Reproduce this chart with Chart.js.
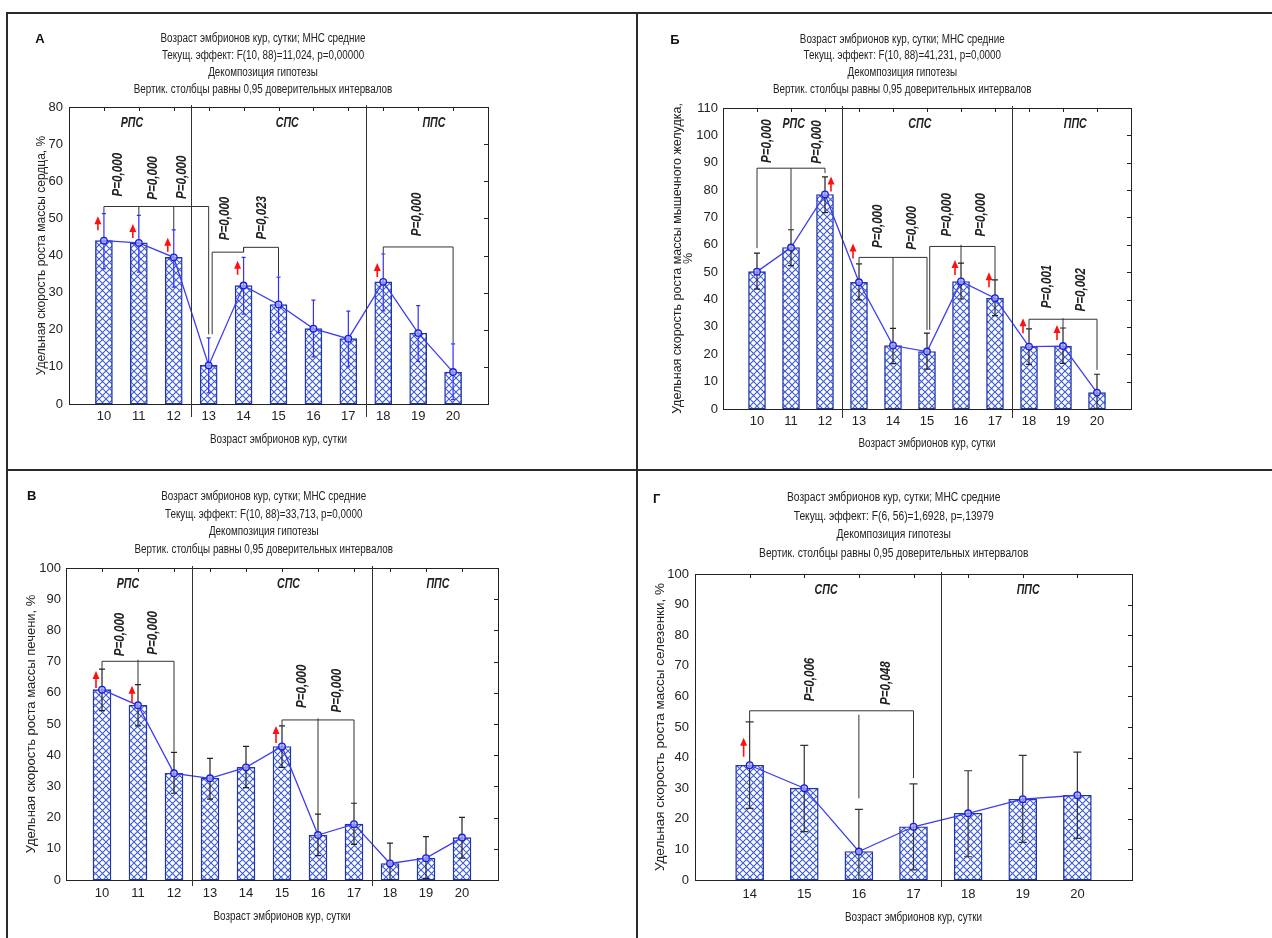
<!DOCTYPE html>
<html>
<head>
<meta charset="utf-8">
<script src="https://cdn.jsdelivr.net/npm/chart.js@4.4.0/dist/chart.umd.min.js"></script>
<style>
body{margin:0;background:#fff;width:1272px;height:938px;overflow:hidden;position:relative}
canvas{position:absolute}
.ln{position:absolute;background:#2b2b2b}
</style>
</head>
<body>
<div class="ln" style="left:6px;top:12px;width:1266px;height:2px"></div>
<div class="ln" style="left:6px;top:12px;width:2px;height:926px"></div>
<div class="ln" style="left:636px;top:12px;width:2px;height:926px"></div>
<div class="ln" style="left:6px;top:469px;width:1266px;height:2px"></div>
<canvas id="cA"></canvas>
<canvas id="cB"></canvas>
<canvas id="cC"></canvas>
<canvas id="cD"></canvas>
<script>
// ---- data ----
var titleTop = 'Возраст эмбрионов кур, сутки; МНС средние'
var titleDec = 'Декомпозиция гипотезы'
var titleCI = 'Вертик. столбцы равны 0,95 доверительных интервалов'
var xTitle = 'Возраст эмбрионов кур, сутки'

// А - сердце
var daysA = [10,11,12,13,14,15,16,17,18,19,20]
var meanA = [44.0,43.4,39.5,10.4,31.9,26.8,20.3,17.6,32.9,19.1,8.6]
var lowA = [36.4,35.5,31.5,3.0,24.2,19.3,12.7,10.0,25.1,11.5,1.2]
var highA = [51.3,50.8,46.9,17.8,39.5,34.2,28.0,25.0,40.4,26.5,16.2]
var groupsA = ['РПС','СПС','ППС']
var groupAtA = [10.8,15.25,19.45]
var sepA = [12.5,17.5]
var bracketsA = [
	[53.2,[[10,53.2,51.3],[11,53.2,50.8],[12,53.2,46.9],[13,53.2,18.8]]],
	[40.9,[[13.1,40.9,18.8],[14,40.9,42.2]]],
	[42.2,[[14,42.2,40.9],[15,42.2,34.4]]],
	[42.3,[[18,42.3,40.4],[20,42.3,16.4]]]
]
var pTextA = ['P=0,000','P=0,000','P=0,000','P=0,000','P=0,023','P=0,000']
var pAtA = [10.4,11.4,12.23,13.47,14.53,18.97]
var pBaseA = [55.9,55.0,55.2,44.1,44.3,45.2]
var arrowDaysA = [10,11,12,14,18]
var arrowBaseA = [46.8,44.7,41.0,34.8,34.2]
var arrowSideA = [-1,-1,-1,-1,-1]

// Б - мышечный желудок
var daysB = [10,11,12,13,14,15,16,17,18,19,20]
var meanB = [50.2,59.0,78.4,46.3,23.2,21.0,46.6,40.5,22.8,23.0,6.0]
var lowB = [43.8,52.4,71.8,39.9,16.6,14.6,40.2,34.1,16.3,16.7,0]
var highB = [57.0,65.5,84.8,53.0,29.5,27.7,53.3,47.2,29.3,29.6,12.7]
var groupsB = ['РПС','СПС','ППС']
var groupAtB = [11.08,14.79,19.36]
var sepB = [12.5,17.5]
var bracketsB = [
	[88.0,[[10,88,58.8],[11,88,65.5],[12,88,86.2]]],
	[55.4,[[13,55.4,53.3],[14,55.4,29.5],[15,55.4,28.9]]],
	[59.4,[[15.08,59.4,28.9],[16,60.0,53.3],[17,59.4,47.2]]],
	[32.8,[[18,32.8,29.3],[19,33.2,29.6],[20,32.8,14.3]]]
]
var pTextB = ['P=0,000','P=0,000','P=0,000','P=0,000','P=0,000','P=0,000','P=0,001','P=0,002']
var pAtB = [10.29,11.76,13.57,14.55,15.58,16.6,18.53,19.53]
var pBaseB = [89.9,89.6,58.8,58.2,63.0,63.0,36.8,35.6]
var arrowDaysB = [12,13,16,17,18,19]
var arrowBaseB = [79.5,55.0,49.0,44.5,27.7,25.2]
var arrowSideB = [1,-1,-1,-1,-1,-1]

// В - печень
var daysC = [10,11,12,13,14,15,16,17,18,19,20]
var meanC = [61.0,56.0,34.2,32.6,36.1,42.8,14.4,17.9,5.3,7.0,13.6]
var lowC = [54.3,49.4,27.8,25.9,29.6,36.1,7.8,11.4,0,0.5,7.0]
var highC = [67.6,62.6,40.9,39.0,42.8,49.4,21.1,24.6,11.8,13.9,20.1]
var groupsC = ['РПС','СПС','ППС']
var groupAtC = [10.72,15.18,19.33]
var sepC = [12.5,17.5]
var bracketsC = [
	[70.1,[[10,70.1,67.6],[11,70.6,62.6],[12,70.1,41.2]]],
	[51.3,[[15,51.3,49.4],[16,51.8,21.1],[17,51.3,24.6]]]
]
var pTextC = ['P=0,000','P=0,000','P=0,000','P=0,000']
var pAtC = [10.5,11.42,15.55,16.53]
var pBaseC = [71.7,72.2,55.1,53.7]
var arrowDaysC = [10,11,15]
var arrowBaseC = [61.5,56.8,43.9]
var arrowSideC = [-1,-1,-1]

// Г - селезенка
var daysD = [14,15,16,17,18,19,20]
var meanD = [37.5,30.0,9.3,17.4,21.8,26.4,27.7]
var lowD = [23.4,15.8,0,3.3,7.6,12.3,13.6]
var highD = [51.7,44.0,23.1,31.4,35.7,40.7,41.8]
var groupsD = ['СПС','ППС']
var groupAtD = [15.4,19.1]
var sepD = [17.5]
var bracketsD = [
	[55.3,[[14,55.3,51.7],[16,54.0,26.7],[17,55.3,33.3]]]
]
var pTextD = ['P=0,006','P=0,048']
var pAtD = [15.1,16.5]
var pBaseD = [58.4,57.2]
var arrowDaysD = [14]
var arrowBaseD = [40.3]
var arrowSideD = [-1]

// ---- styles / layout ----
var FR = "'Liberation Sans', Arial, sans-serif"
Chart.defaults.font.family = FR
Chart.defaults.color = '#222'

function hatch(ctx){
	var t = document.createElement('canvas')
	t.width = 7; t.height = 7
	var g = t.getContext('2d')
	g.fillStyle = '#fff'
	g.fillRect(0,0,7,7)
	g.strokeStyle = '#3d5bd8'
	g.lineWidth = 1.1
	g.beginPath()
	g.moveTo(-1,-1); g.lineTo(8,8)
	g.moveTo(8,-1); g.lineTo(-1,8)
	g.stroke()
	return ctx.createPattern(t,'repeat')
}

// text squeezed sideways, the source figure uses a narrow face
function narrow(c, text, x, y, sx, rot){
	c.save()
	c.translate(x,y)
	if(rot) c.rotate(rot)
	c.scale(sx,1)
	c.fillText(text,0,0)
	c.restore()
}

function panel(id, L, D){
	var cv = document.getElementById(id)
	cv.width = L.w; cv.height = L.h
	cv.style.left = L.x + 'px'; cv.style.top = L.y + 'px'
	var ctx = cv.getContext('2d')
	var a = L.area
	var yW = a[0] - L.yTitleX + L.yFont*L.yLine/2 + 2
	var xH = L.xTitleY - a[3] + 12
	var pts = D.days.map(function(d,i){ return {x:d, y:D.mean[i]} })

	var decor = {
		id: 'decor' + id,
		afterDatasetDraw: function(chart, args){
			if(args.index !== 1) return
			var x = chart.scales.x, y = chart.scales.y, c = chart.ctx
			c.save()
			c.strokeStyle = L.errColor
			c.lineWidth = 1.2
			for(var i=0;i<D.days.length;i++){
				var px = x.getPixelForValue(D.days[i])
				var y1 = y.getPixelForValue(D.high[i]), y0 = y.getPixelForValue(Math.max(0,D.low[i]))
				c.beginPath()
				c.moveTo(px,y1); c.lineTo(px,y0)
				c.moveTo(px-L.capW,y1); c.lineTo(px+L.capW,y1)
				c.moveTo(px-L.capW,y0); c.lineTo(px+L.capW,y0)
				c.stroke()
			}
			c.restore()
		},
		afterDraw: function(chart){
			var x = chart.scales.x, y = chart.scales.y, c = chart.ctx, ca = chart.chartArea
			c.save()
			// frame and inner ticks
			c.strokeStyle = '#222'
			c.lineWidth = 1
			c.strokeRect(Math.round(ca.left)+0.5, Math.round(ca.top)+0.5, Math.round(ca.right-ca.left), Math.round(ca.bottom-ca.top))
			c.beginPath()
			D.days.forEach(function(d){
				var px = Math.round(x.getPixelForValue(d))+0.5
				c.moveTo(px,ca.top); c.lineTo(px,ca.top+4)
			})
			for(var v=10; v<D.yMax; v+=10){
				var py = Math.round(y.getPixelForValue(v))+0.5
				c.moveTo(ca.right,py); c.lineTo(ca.right-4,py)
			}
			c.stroke()
			// separators between periods
			c.strokeStyle = '#333'
			c.beginPath()
			D.seps.forEach(function(s){
				var px = Math.round(x.getPixelForValue(s))+0.5
				c.moveTo(px,ca.top-2); c.lineTo(px,ca.bottom+L.sepDown)
			})
			c.stroke()
			// period names
			c.fillStyle = '#222'
			c.font = 'italic bold 14px ' + FR
			c.textAlign = 'center'; c.textBaseline = 'middle'
			D.groups.forEach(function(g,i){
				narrow(c, g, x.getPixelForValue(D.groupAt[i]), ca.top+16, 0.76)
			})
			// brackets
			c.strokeStyle = '#333'
			c.lineWidth = 1
			D.brackets.forEach(function(b){
				var lv = y.getPixelForValue(b[0])
				var xs = b[1].map(function(d){ return x.getPixelForValue(d[0]) })
				c.beginPath()
				c.moveTo(Math.min.apply(null,xs),lv); c.lineTo(Math.max.apply(null,xs),lv)
				b[1].forEach(function(d,k){
					c.moveTo(xs[k],y.getPixelForValue(d[1])); c.lineTo(xs[k],y.getPixelForValue(d[2]))
				})
				c.stroke()
			})
			// p labels
			c.font = 'italic bold 14px ' + FR
			c.textAlign = 'left'; c.textBaseline = 'middle'
			D.pText.forEach(function(t,i){
				narrow(c, t, x.getPixelForValue(D.pAt[i]), y.getPixelForValue(D.pBase[i]), 0.83, -Math.PI/2)
			})
			// red arrows
			c.fillStyle = '#ff1010'; c.strokeStyle = '#ff1010'; c.lineWidth = 1.6
			D.arrowDays.forEach(function(d,i){
				var px = x.getPixelForValue(d) + D.arrowSide[i]*6
				var py = y.getPixelForValue(D.arrowBase[i])
				var tip = py - L.arrowLen
				c.beginPath(); c.moveTo(px,py); c.lineTo(px,tip+5); c.stroke()
				c.beginPath(); c.moveTo(px,tip); c.lineTo(px-3.5,tip+8); c.lineTo(px+3.5,tip+8); c.closePath(); c.fill()
			})
			// x axis title
			c.fillStyle = '#222'
			c.font = '13px ' + FR
			c.textAlign = 'center'
			narrow(c, xTitle, (ca.left+ca.right)/2, L.xTitleY-L.y, 0.76)
			// panel letter and header
			c.fillStyle = '#111'
			c.font = 'bold 13px ' + FR
			c.fillText(D.letter, L.letter[0]-L.x, L.letter[1]-L.y)
			c.font = L.titleSize + 'px ' + FR
			c.fillStyle = '#222'
			D.title.forEach(function(t,k){
				narrow(c, t, L.titleX-L.x, L.titleY-L.y+k*L.titleDy, 0.82)
			})
			c.restore()
		}
	}

	new Chart(cv,{
		type:'bar',
		data:{
			datasets:[
				{
					type:'line', order:0, data:pts,
					borderColor:'#3b3df2', borderWidth:1.3,
					pointRadius:3.3, pointBorderWidth:1.3,
					pointBorderColor:'#1c1ce0', pointBackgroundColor:'rgba(170,180,255,0.7)'
				},
				{
					type:'bar', order:1, data:pts,
					backgroundColor:hatch(ctx), borderColor:'#1f35a8', borderWidth:1.4,
					borderSkipped:false, barThickness:L.barW
				}
			]
		},
		options:{
			responsive:false,
			animation:false,
			layout:{padding:{left:a[0]-L.x-yW, top:a[1]-L.y, right:L.x+L.w-a[2], bottom:L.y+L.h-a[3]-xH}},
			plugins:{legend:{display:false}, tooltip:{enabled:false}, title:{display:false}},
			scales:{
				x:{
					type:'linear', min:D.xMin, max:D.xMax, offset:false,
					grid:{display:false, drawTicks:false}, border:{display:false},
					ticks:{stepSize:1, autoSkip:false, maxRotation:0, padding:L.xTickY-a[3]-7.8, font:{size:13},
						callback:function(v){ return D.days.indexOf(v) >= 0 ? String(v) : '' }},
					afterFit:function(s){ s.height = xH }
				},
				y:{
					min:0, max:D.yMax,
					grid:{display:false, drawTicks:false}, border:{display:false},
					ticks:{stepSize:10, padding:L.yTickPad, font:{size:13}},
					title:{display:true, text:D.yTitle, font:{size:L.yFont, lineHeight:L.yLine}, padding:{top:2,bottom:0}},
					afterFit:function(s){ s.width = yW }
				}
			}
		},
		plugins:[decor]
	})
}

panel('cA',
	{x:8, y:14, w:628, h:455, area:[69,107,488,404], yTitleX:41.7, yFont:12, yLine:1.2, yTickPad:6,
	 xTickY:416.7, xTitleY:439, barW:17, capW:2, errColor:'#3030ff', arrowLen:14, sepDown:13,
	 letter:[40,39], titleX:263, titleY:39, titleDy:16.8, titleSize:12},
	{letter:'А', days:daysA, mean:meanA, low:lowA, high:highA, xMin:9, xMax:21, yMax:80,
	 yTitle:'Удельная скорость роста массы сердца, %',
	 title:[titleTop,'Текущ. эффект: F(10, 88)=11,024, p=0,00000',titleDec,titleCI],
	 groups:groupsA, groupAt:groupAtA, seps:sepA, brackets:bracketsA,
	 pText:pTextA, pAt:pAtA, pBase:pBaseA, arrowDays:arrowDaysA, arrowBase:arrowBaseA, arrowSide:arrowSideA})

panel('cB',
	{x:638, y:14, w:634, h:455, area:[723,108,1131,409], yTitleX:677.7, yFont:12.5, yLine:0.9, yTickPad:5,
	 xTickY:421.7, xTitleY:443, barW:17, capW:3, errColor:'#222', arrowLen:15, sepDown:9,
	 letter:[675,40.7], titleX:902.3, titleY:39.3, titleDy:16.7, titleSize:12},
	{letter:'Б', days:daysB, mean:meanB, low:lowB, high:highB, xMin:9, xMax:21, yMax:110,
	 yTitle:['Удельная скорость роста массы мышечного желудка,','%'],
	 title:[titleTop,'Текущ. эффект: F(10, 88)=41,231, p=0,0000',titleDec,titleCI],
	 groups:groupsB, groupAt:groupAtB, seps:sepB, brackets:bracketsB,
	 pText:pTextB, pAt:pAtB, pBase:pBaseB, arrowDays:arrowDaysB, arrowBase:arrowBaseB, arrowSide:arrowSideB})

panel('cC',
	{x:8, y:471, w:628, h:467, area:[66,568,498,880], yTitleX:31.7, yFont:13, yLine:1.2, yTickPad:5,
	 xTickY:893.3, xTitleY:916, barW:18, capW:3, errColor:'#222', arrowLen:17, sepDown:6,
	 letter:[31.7,496.7], titleX:263.7, titleY:496.7, titleDy:17.5, titleSize:12},
	{letter:'В', days:daysC, mean:meanC, low:lowC, high:highC, xMin:9, xMax:21, yMax:100,
	 yTitle:'Удельная скорость роста массы печени, %',
	 title:[titleTop,'Текущ. эффект: F(10, 88)=33,713, p=0,0000',titleDec,titleCI],
	 groups:groupsC, groupAt:groupAtC, seps:sepC, brackets:bracketsC,
	 pText:pTextC, pAt:pAtC, pBase:pBaseC, arrowDays:arrowDaysC, arrowBase:arrowBaseC, arrowSide:arrowSideC})

panel('cD',
	{x:638, y:471, w:634, h:467, area:[695,574,1132,880], yTitleX:660, yFont:13.5, yLine:1.2, yTickPad:6,
	 xTickY:894, xTitleY:917.7, barW:28, capW:4, errColor:'#333', arrowLen:19, sepDown:7,
	 letter:[656.7,499.3], titleX:893.7, titleY:497.7, titleDy:18.5, titleSize:12.5},
	{letter:'Г', days:daysD, mean:meanD, low:lowD, high:highD, xMin:13, xMax:21, yMax:100,
	 yTitle:'Удельная скорость роста массы селезенки, %',
	 title:[titleTop,'Текущ. эффект: F(6, 56)=1,6928, p=,13979',titleDec,titleCI],
	 groups:groupsD, groupAt:groupAtD, seps:sepD, brackets:bracketsD,
	 pText:pTextD, pAt:pAtD, pBase:pBaseD, arrowDays:arrowDaysD, arrowBase:arrowBaseD, arrowSide:arrowSideD})
</script>
</body>
</html>
